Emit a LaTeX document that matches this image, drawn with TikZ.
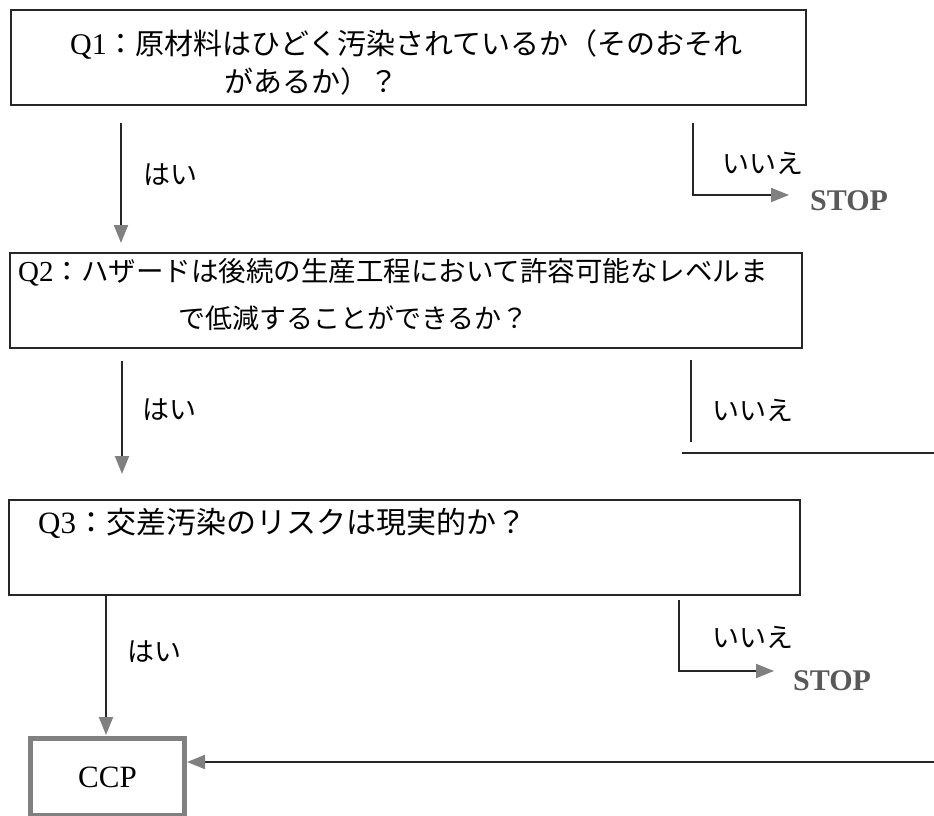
\documentclass[tikz,border=0pt]{standalone}
\usepackage{fontspec}
\setmainfont{Liberation Serif}
\newfontfamily\jp{Noto Sans CJK JP}
\usetikzlibrary{arrows.meta}
\begin{document}
\begin{tikzpicture}[x=1pt,y=-1pt,
  qbox/.style={draw=black!85, line width=2pt, minimum height=95pt, anchor=north west, inner sep=0pt},
  qtext/.style={anchor=west, inner sep=0pt, text=black},
  lab/.style={anchor=west, inner sep=0pt, font=\jp\fontsize{27}{32}\selectfont, text=black},
  stoptext/.style={anchor=west, inner sep=0pt, font=\bfseries\fontsize{30}{34}\selectfont, text=black!65},
  conn/.style={draw=black!85, line width=2pt},
  arr/.style={conn, -{Triangle[length=18pt,width=14pt,color=gray]}}
]
\useasboundingbox (0,0) rectangle (934,816);

% Boxes
\node[qbox, minimum width=795pt] (q1) at (10,9) {};
\node[qbox, minimum width=792pt] (q2) at (9,252) {};
\node[qbox, minimum width=791pt] (q3) at (8,499) {};
\node[draw=gray, line width=5pt, minimum width=154pt, minimum height=77pt, anchor=north west, inner sep=0pt,
      font=\fontsize{31}{34}\selectfont] (ccp) at (28,736) {CCP};

% Box texts
\node[qtext, font=\fontsize{30}{34}\selectfont] (t1a) at (70,45) {Q1{\jp\fontsize{29}{34}\selectfont：原材料はひどく汚染されているか（そのおそれ}};
\node[qtext, font=\jp\fontsize{29}{34}\selectfont] (t1b) at (224,81) {があるか）？};
\node[qtext, font=\fontsize{29}{32}\selectfont] (t2a) at (18,272) {Q2{\jp\fontsize{27.5}{32}\selectfont：ハザードは後続の生産工程において許容可能なレベルま}};
\node[qtext, font=\jp\fontsize{27}{32}\selectfont] (t2b) at (178,318) {で低減することができるか？};
\node[qtext, font=\fontsize{31}{34}\selectfont] (t3a) at (38,523) {Q3{\jp\fontsize{30}{34}\selectfont：交差汚染のリスクは現実的か？}};

% Labels
\node[lab] (y1) at (143,175) {はい};
\node[lab] (y2) at (142,410) {はい};
\node[lab] (y3) at (127,652) {はい};
\node[lab] (n1) at (722,163) {いいえ};
\node[lab] (n2) at (712,410) {いいえ};
\node[lab] (n3) at (712,637) {いいえ};
\node[stoptext] (stop1) at (810,201) {STOP};
\node[stoptext] (stop3) at (793,681) {STOP};

% Connector points
\coordinate (a1s) at (121,123);
\coordinate (a1e) at (121,243);
\coordinate (a2s) at (122,361);
\coordinate (a2e) at (122,474);
\coordinate (a3s) at (106,594);
\coordinate (a3e) at (106,735);
\coordinate (b1s) at (693,123);
\coordinate (b1c) at (693,195);
\coordinate (b1e) at (789,195);
\coordinate (b2s) at (691,360);
\coordinate (b2e) at (691,442);
\coordinate (h2s) at (682,453);
\coordinate (h2e) at (934,453);
\coordinate (b3s) at (679,600);
\coordinate (b3c) at (679,671);
\coordinate (b3e) at (774,671);
\coordinate (cin) at (934,762);

% Connectors
\draw[arr] (a1s) -- (a1e);
\draw[arr] (a2s) -- (a2e);
\draw[arr] (a3s) -- (a3e);
\draw[arr] (b1s) -- (b1c) -- (b1e);
\draw[conn] (b2s) -- (b2e);
\draw[conn] (h2s) -- (h2e);
\draw[arr] (b3s) -- (b3c) -- (b3e);
\draw[arr] (cin) -- (ccp.east |- cin);
\end{tikzpicture}
\end{document}
